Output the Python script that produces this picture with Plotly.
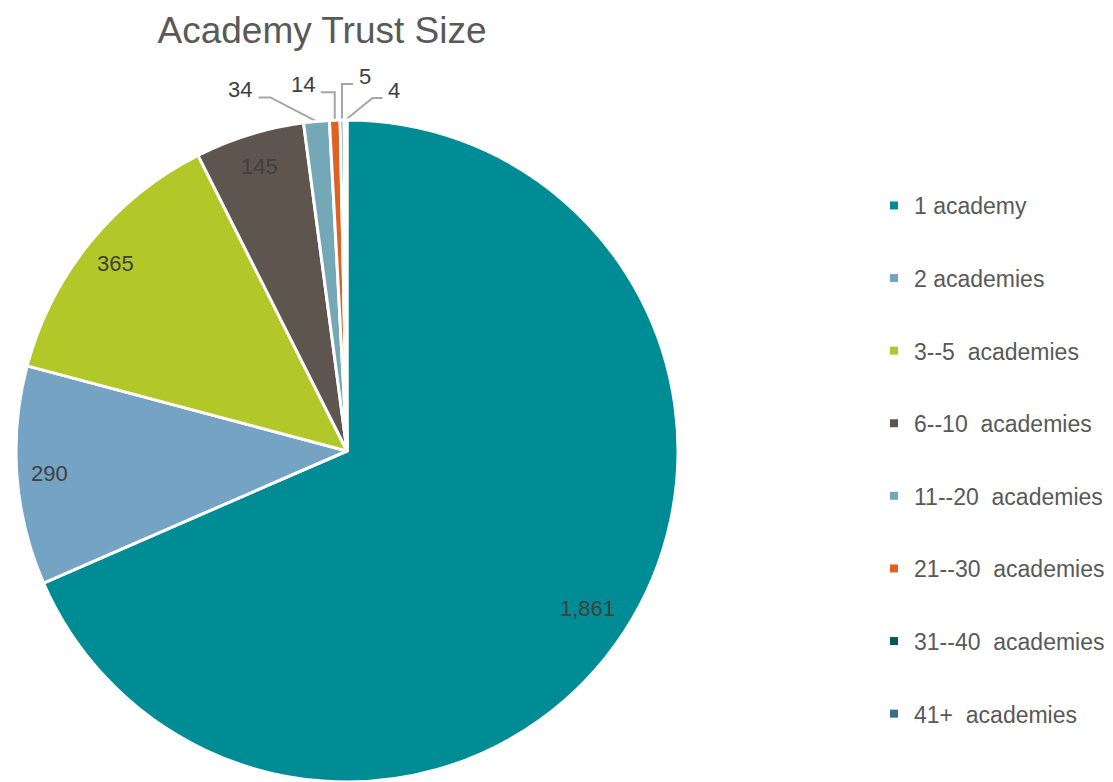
import math
import plotly.graph_objects as go

# ---------------- data ----------------
categories = ["1 academy", "2 academies", "3--5  academies", "6--10  academies",
              "11--20  academies", "21--30  academies", "31--40  academies", "41+  academies"]
values = [1861, 290, 365, 145, 34, 14, 5, 4]
colors = ["#008C95", "#75A3C4", "#B2C828", "#5E554F",
          "#75A8B7", "#E06222", "#00585E", "#3B6E8C"]
title_text = "Academy Trust Size"

# ---------------- style / layout ----------------
W, H = 1113, 782
CX, CY, R = 347, 451, 331          # pie centre and radius in pixels
FONT = "Liberation Sans"
LABEL_COLOR = "#404040"
LEGEND_COLOR = "#595959"
# labels drawn inside (radial factor) or outside with an elbow leader line
inside_factor = [0.87, 0.9, 0.9, 0.9, None, None, None, None]
# (elbow dx, elbow rise, horizontal run) for outside labels, in px
leader = [None, None, None, None, (-46, 24, -12), (0, 28, -14), (0, 36, 11), (27, 22, 10)]


def px2paper(x, y):
    return x / W, 1 - y / H


fig = go.Figure()
fig.add_trace(go.Pie(
    labels=categories, values=values, sort=False, direction="clockwise", rotation=0,
    marker=dict(colors=colors, line=dict(color="white", width=3)),
    textinfo="none", showlegend=False, hoverinfo="label+value",
    domain=dict(x=[(CX - R) / W, (CX + R) / W], y=[1 - (CY + R) / H, 1 - (CY - R) / H]),
))

# legend built from dummy traces so item spacing can be controlled
for i, (cat, col) in enumerate(zip(categories, colors)):
    fig.add_trace(go.Scatter(
        x=[None], y=[None], mode="markers", name=cat, legendgroup=f"g{i}",
        marker=dict(symbol="square", size=8, color=col), showlegend=True,
    ))

total = sum(values)
annotations = []
shapes = []
cum = 0
for i, v in enumerate(values):
    a0 = cum / total * 360
    cum += v
    a1 = cum / total * 360
    mid = math.radians((a0 + a1) / 2)
    sx, sy = math.sin(mid), -math.cos(mid)
    text = f"{v:,}"
    if inside_factor[i] is not None:
        f = inside_factor[i]
        x, y = px2paper(CX + f * R * sx, CY + f * R * sy)
        annotations.append(dict(x=x, y=y, xref="paper", yref="paper", text=text,
                                xanchor="center", yanchor="middle",
                                showarrow=False, font=dict(size=22, color=LABEL_COLOR, family=FONT)))
    else:
        ex, rise, run = leader[i]
        p0 = (CX + R * sx, CY + R * sy)
        p1 = (p0[0] + ex, p0[1] - rise)
        p2 = (p1[0] + run, p1[1])
        pts = [px2paper(*p) for p in (p0, p1, p2)]
        path = "M {} {} L {} {} L {} {}".format(pts[0][0], pts[0][1], pts[1][0], pts[1][1],
                                                 pts[2][0], pts[2][1])
        shapes.append(dict(type="path", path=path, xref="paper", yref="paper",
                           line=dict(color="#A6A6A6", width=2), layer="below"))
        side = 1 if run > 0 else -1
        lx, ly = px2paper(p2[0] + side * 4, p2[1] - 8)
        annotations.append(dict(x=lx, y=ly, xref="paper", yref="paper", text=text,
                                xanchor="left" if side > 0 else "right", yanchor="middle",
                                showarrow=False, font=dict(size=22, color=LABEL_COLOR, family=FONT)))

fig.update_layout(
    width=W, height=H,
    margin=dict(l=0, r=0, t=0, b=0),
    paper_bgcolor="white", plot_bgcolor="white",
    title=dict(text=title_text, x=322 / W, xanchor="center", y=1 - 30 / H, yanchor="middle",
               yref="container", font=dict(size=37, color=LEGEND_COLOR, family=FONT)),
    xaxis=dict(visible=False), yaxis=dict(visible=False),
    legend=dict(x=874 / W, xanchor="left", y=1 - 184 / H, yanchor="top",
                font=dict(size=23, color=LEGEND_COLOR, family=FONT),
                tracegroupgap=39.7, traceorder="grouped", itemclick=False,
                bgcolor="rgba(0,0,0,0)"),
    annotations=annotations,
    shapes=shapes,
    font=dict(family=FONT),
)

fig.write_html("out.html")
